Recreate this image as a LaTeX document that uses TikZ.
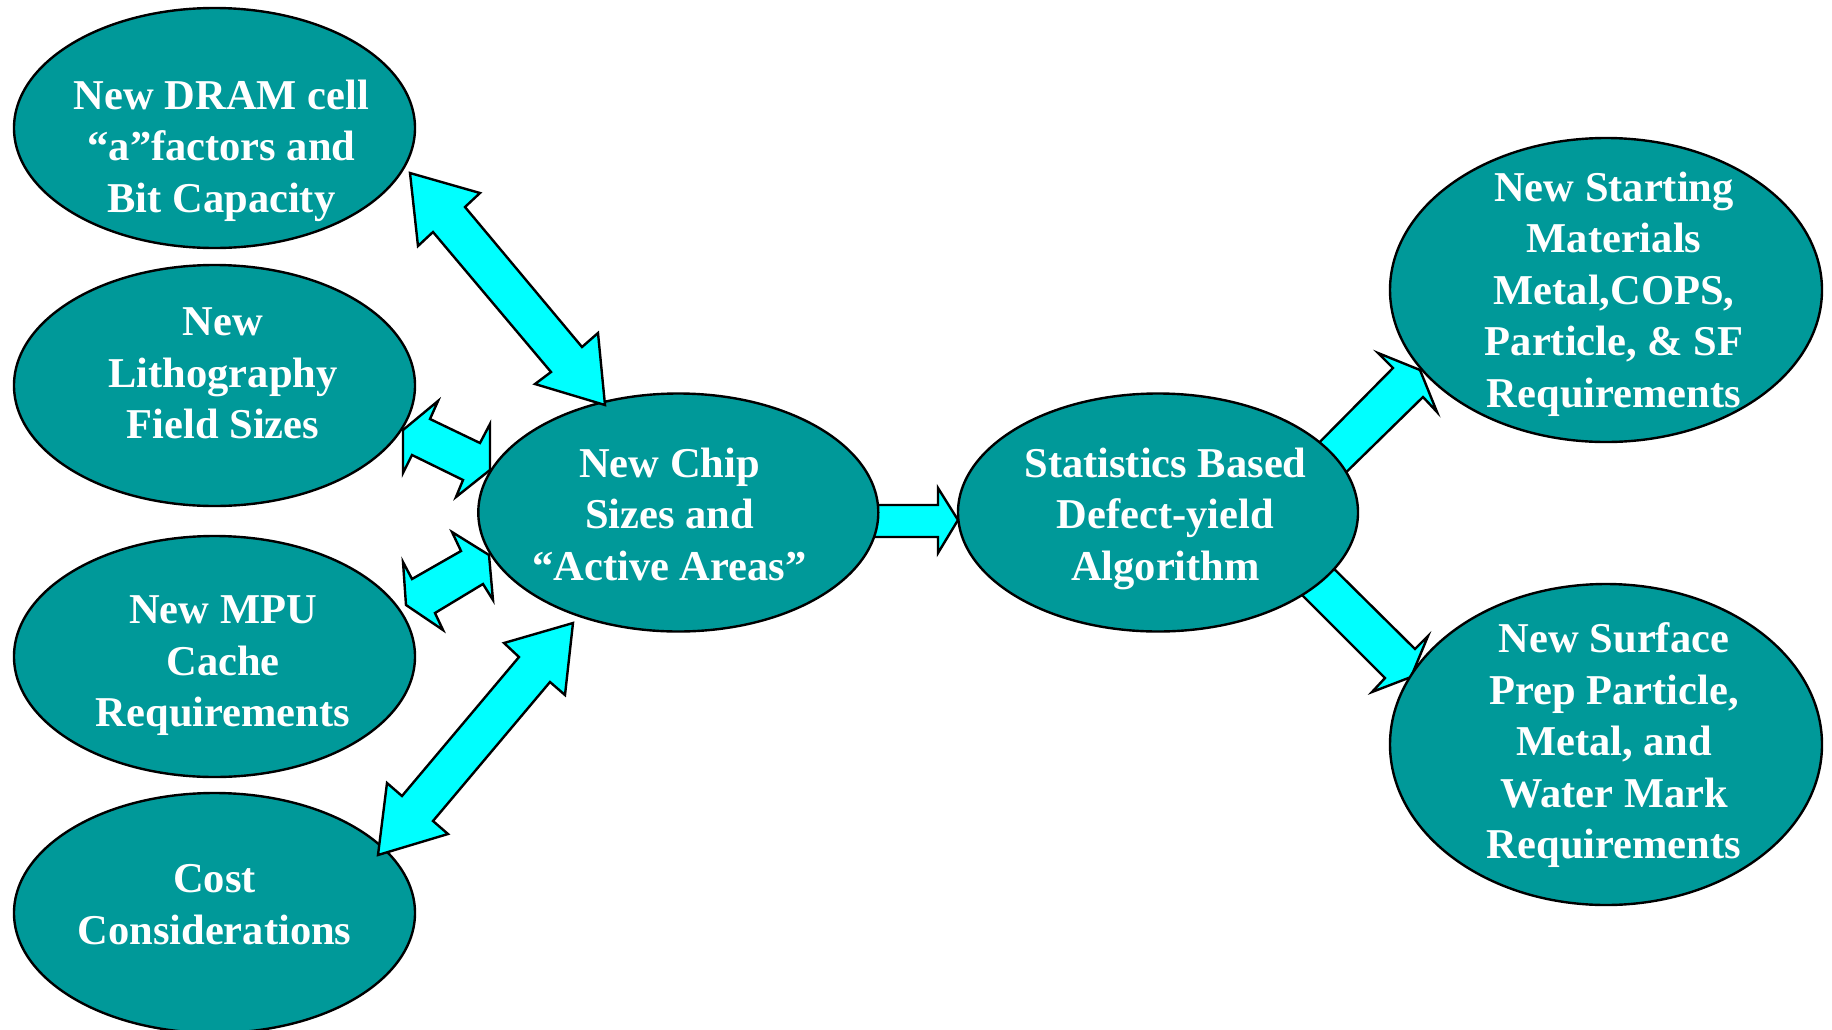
\documentclass[tikz,border=0pt]{standalone}
\usepackage{fontspec}
\setmainfont{Liberation Serif}
\usetikzlibrary{shapes.geometric}
\definecolor{tealfill}{RGB}{0,153,153}
\definecolor{arrowcyan}{RGB}{0,255,255}
\begin{document}
\begin{tikzpicture}[x=1pt,y=-1pt,
  bubble/.style={ellipse, draw=black, line width=2.4pt, fill=tealfill, inner sep=0pt},
  bubbletext/.style={text=white, font=\fontsize{42.5}{51.5}\selectfont\bfseries, align=center, inner sep=0pt},
  blockarrow/.style={draw=black, fill=arrowcyan, line width=2.4pt, line join=miter}]
\useasboundingbox[fill=white] (0,0) rectangle (1832,1029);

% arrows behind the ellipses (start inside them)
\draw[blockarrow] (860,505) -- (938,505) -- (938,488) -- (958,520) -- (938,553) -- (938,537) -- (860,537) -- cycle;
\draw[blockarrow] (1300,462) -- (1393,368) -- (1378,353) -- (1420,370) -- (1437,412) -- (1423,397) -- (1327,491) -- cycle;
\draw[blockarrow] (1317,552) -- (1415,649) -- (1428,636) -- (1411,677) -- (1372,692) -- (1385,678) -- (1286,579) -- cycle;

% ellipses
\node[bubble, minimum width=401pt, minimum height=240pt] (dram) at (214.5,128) {};
\node[bubble, minimum width=401pt, minimum height=241pt] (litho) at (214.5,385.5) {};
\node[bubble, minimum width=401pt, minimum height=241pt] (mpu) at (214.5,656.5) {};
\node[bubble, minimum width=401pt, minimum height=240pt] (cost) at (214.5,913) {};
\node[bubble, minimum width=400pt, minimum height=238pt] (chip) at (678.3,512.5) {};
\node[bubble, minimum width=400pt, minimum height=238pt] (stats) at (1158,512.5) {};
\node[bubble, minimum width=432pt, minimum height=304pt] (start) at (1606,290) {};
\node[bubble, minimum width=432pt, minimum height=321pt] (surf) at (1606,744.5) {};

% texts
\node[bubbletext] (tdram) at (221.5,150.5) {New DRAM cell\\“a”factors and\\Bit Capacity};
\node[bubbletext] (tlitho) at (223,373.5) {New\\Lithography\\Field Sizes};
\node[bubbletext] (tmpu) at (223,666) {New MPU\\Cache\\Requirements};
\node[bubbletext] (tcost) at (214.5,904.5) {Cost\\Considerations};
\node[bubbletext] (tchip) at (669.5,514.2) {New Chip\\Sizes and\\“Active Areas”};
\node[bubbletext] (tstats) at (1165.5,518.7) {Statistics Based\\Defect-yield\\Algorithm};
\node[bubbletext] (tstart) at (1614,294) {New Starting\\Materials\\Metal,COPS,\\Particle, \& SF\\Requirements};
\node[bubbletext] (tsurf) at (1614,745.2) {New Surface\\Prep Particle,\\Metal, and\\Water Mark\\Requirements};

% double block arrows on top
\draw[blockarrow] (410,173) -- (480,193) -- (465,207) -- (582,347) -- (598,333) -- (605,405) -- (535,384) -- (551,372) -- (433,232) -- (418,246) -- cycle;
\draw[blockarrow] (403,430) -- (438,401) -- (430,419) -- (480,443) -- (490,424) -- (490,470) -- (456,497) -- (463,480) -- (412,455) -- (403,473) -- cycle;
\draw[blockarrow] (452,532) -- (461,551) -- (412,579) -- (403,562) -- (406,605) -- (443,630) -- (435,613) -- (483,584) -- (493,600) -- (489,555) -- cycle;
\draw[blockarrow] (573,623) -- (504,643) -- (519,657) -- (402,796) -- (387,783) -- (378,855) -- (448,834) -- (433,821) -- (550,682) -- (565,695) -- cycle;
\end{tikzpicture}
\end{document}
